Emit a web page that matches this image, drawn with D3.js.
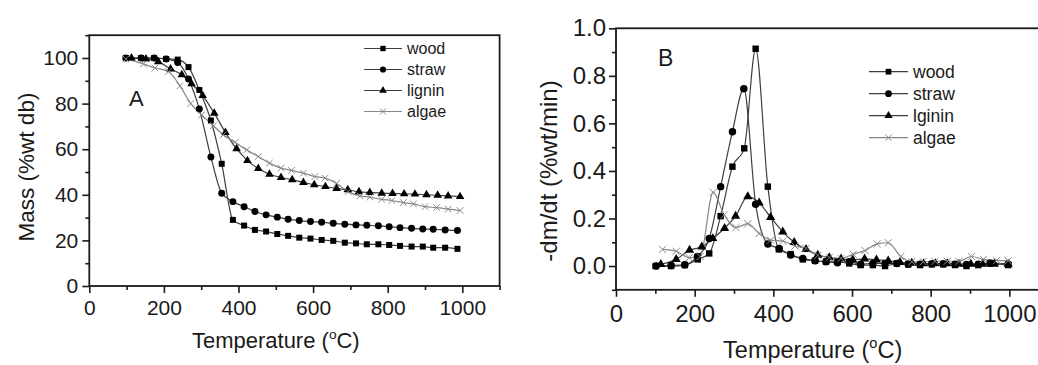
<!DOCTYPE html>
<html>
<head>
<meta charset="utf-8">
<script src="https://cdn.jsdelivr.net/npm/d3@7"></script>
<style>
  html, body { margin: 0; padding: 0; background: #fff; }
  svg { display: block; }
  text { font-family: Arial, "Liberation Sans", Helvetica, sans-serif; fill: #1a1a1a; }
</style>
</head>
<body>
<svg id="chart" width="1038" height="365"></svg>
<script>
// ---- Panel A: thermogravimetric mass loss (% wt, dry basis) ----
const tempsWoodStrawA = [98,139,174,206,237,266,295,326,355,385,415,444,474,504,533,563,593,623,654,685,715,744,775,804,833,864,894,922,954,987];
const massWood  = [100,100,100,99.6,99.3,96,86,72.6,53.6,29,26.5,24.6,23.9,22.8,22,21.2,20.8,20.2,19.8,19,18.7,18.3,18.3,18,17.6,17.3,17.3,16.8,16.8,16.3];
const massStraw = [100,100,100,99.6,98,90.8,77.6,56.6,40.7,37,34.8,32.7,31.2,30.2,29.3,28.7,28.3,28,27.5,27.1,26.8,26.6,26.4,26,25.6,25.3,25,24.9,24.6,24.3];
const tempsLigninA = [113,152,185,218,248,274,304,335,365,395,424,453,483,514,544,574,603,633,663,693,723,752,784,813,844,873,904,934,962,994];
const massLignin = [100,99.6,98.4,95.2,92.7,88.7,83.5,75.8,67.3,60.2,55,51.5,49,47.6,46.6,45.4,44.4,43.6,42.8,42.2,41.3,41,40.7,40.6,40.4,40.3,40,39.8,39.5,39.2];
const tempsAlgaeA = [98,145,176,212,243,272,301,333,359,391,422,453,483,514,542,574,605,632,663,694,726,752,784,811,842,869,900,931,962,994];
const massAlgae = [99.6,97.4,95.6,94.1,87.8,80,75,70.3,66.3,63,59.7,56.8,53.9,51.7,50.7,49.5,48,47.3,45,41.4,39.5,39,38,37.5,36.6,36,34.8,34.4,33.7,33.1];

// ---- Panel B: derivative mass loss rate (-dm/dt, % wt/min) ----
const tempsWoodB = [101,140,175,208,237,266,296,326,355,386,414,444,475,506,534,563,593,622,653,684,714,743,773,803,832,862,891,921,951,997];
const rateWood  = [0,0,0.004,0.028,0.053,0.21,0.418,0.495,0.914,0.334,0.07,0.05,0.028,0.022,0.018,0.018,0.011,0.004,0.004,0,0.011,0.007,0.004,0.007,0.007,0.004,0,0.004,0.011,0.004];
const tempsStrawB = [102,140,175,207,237,266,296,325,355,386,415,444,475,506,534,563,593,622,653,684,714,743,773,803,832,862,891,921,951,997];
const rateStraw = [0,0.002,0.005,0.04,0.116,0.334,0.565,0.746,0.26,0.093,0.074,0.046,0.032,0.022,0.018,0.014,0.018,0.008,0.011,0.011,0.011,0.008,0.008,0.01,0.01,0.008,0.006,0.008,0.012,0.008];
const tempsLigninB = [114,153,187,218,246,276,304,335,364,393,424,453,483,513,542,572,602,632,662,692,722,752,782,812,842,872,902,932,962,997];
const rateLignin = [0.007,0.028,0.067,0.081,0.116,0.159,0.21,0.292,0.266,0.205,0.144,0.1,0.07,0.046,0.036,0.03,0.026,0.03,0.026,0.022,0.016,0.012,0.01,0.01,0.01,0.008,0.008,0.008,0.008,0.008];
const tempsAlgaeB = [118,153,186,214,247,275,305,335,364,393,424,455,483,513,542,572,603,633,664,692,724,752,781,811,842,872,904,934,968,997];
const rateAlgae = [0.07,0.062,0.035,0.04,0.31,0.215,0.162,0.178,0.137,0.109,0.105,0.084,0.074,0.045,0.036,0.032,0.05,0.065,0.093,0.098,0.04,0.018,0.018,0.02,0.02,0.02,0.04,0.028,0.024,0.022];

// ---- Axis ticks ----
const xMajorTicks = [0,200,400,600,800,1000];
const xMinorTicks = [100,300,500,700,900,1100];
const yMajorTicksA = [0,20,40,60,80,100];
const yMinorTicksA = [10,30,50,70,90,110];
const yMajorTicksB = [0.0,0.2,0.4,0.6,0.8,1.0];
const yMinorTicksB = [-0.1,0.1,0.3,0.5,0.7,0.9];

const seriesNames = ["wood","straw","lignin","algae"];
const seriesNamesB = ["wood","straw","lginin","algae"];

const svg = d3.select("#chart");

const symbolX = d3.symbolTimes || d3.symbolX;
const styles = [
  {sym: d3.symbolSquare,   size: 36, line: "#3f3f3f", fill: "#000", stroke: "none"},
  {sym: d3.symbolCircle,   size: 38, line: "#3f3f3f", fill: "#000", stroke: "none"},
  {sym: d3.symbolTriangle, size: 32, line: "#3f3f3f", fill: "#000", stroke: "none"},
  {sym: symbolX,           size: 30, line: "#888", fill: "none", stroke: "#888"}
];

function drawPanel(p) {
  const g = svg.append("g");
  const x = p.x, y = p.y;
  const [x0, x1] = x.range();
  const [y0, y1] = y.range();

  // axes with major (labelled) and minor ticks
  const xAxis = d3.axisBottom(x).tickValues(xMajorTicks).tickSize(7).tickPadding(p.xPad).tickFormat(d3.format("d"));
  const xMinor = d3.axisBottom(x).tickValues(xMinorTicks).tickSize(4).tickFormat("");
  const yAxis = d3.axisLeft(y).tickValues(p.yMajor).tickSize(7).tickPadding(p.yPad).tickFormat(p.yFormat);
  const yMinor = d3.axisLeft(y).tickValues(p.yMinor).tickSize(4).tickFormat("");

  [[xAxis, `translate(0,${y0})`], [xMinor, `translate(0,${y0})`], [yAxis, `translate(${x0},0)`], [yMinor, `translate(${x0},0)`]]
    .forEach(([ax, tr]) => {
      const a = g.append("g").attr("transform", tr).call(ax);
      a.select(".domain").remove();
      a.selectAll("line").attr("stroke", "#1a1a1a").attr("stroke-width", 1.6);
      a.selectAll("text").attr("font-size", p.tickFont).attr("fill", "#1a1a1a")
        .style("font-family", "Arial, 'Liberation Sans', sans-serif");
    });

  // frame
  g.append("rect").attr("x", x0).attr("y", y1).attr("width", x1 - x0).attr("height", y0 - y1)
    .attr("fill", "none").attr("stroke", "#1a1a1a").attr("stroke-width", 1.8);

  // series
  const line = d3.line().x(d => x(d[0])).y(d => y(d[1])).curve(d3.curveMonotoneX);
  p.series.forEach((s, i) => {
    const st = styles[i];
    const pts = s.t.map((t, k) => [t, s.v[k]]);
    g.append("path").datum(pts).attr("d", line).attr("fill", "none")
      .attr("stroke", st.line).attr("stroke-width", 1.2);
  });
  p.series.forEach((s, i) => {
    const st = styles[i];
    const sym = d3.symbol().type(st.sym).size(st.size * p.markScale);
    g.selectAll(null).data(s.t.map((t, k) => [t, s.v[k]])).join("path")
      .attr("d", sym)
      .attr("transform", d => `translate(${x(d[0])},${y(d[1])})`)
      .attr("fill", st.fill).attr("stroke", st.stroke).attr("stroke-width", 1);
  });

  // legend
  p.names.forEach((n, i) => {
    const st = styles[i];
    const ly = p.legY + i * p.legStep;
    g.append("line").attr("x1", p.legX1).attr("x2", p.legX2).attr("y1", ly).attr("y2", ly)
      .attr("stroke", st.line).attr("stroke-width", 1.2);
    g.append("path").attr("d", d3.symbol().type(st.sym).size(st.size * p.markScale * 0.8))
      .attr("transform", `translate(${(p.legX1 + p.legX2) / 2},${ly})`)
      .attr("fill", st.fill).attr("stroke", st.stroke).attr("stroke-width", 1);
    g.append("text").attr("x", p.legX2 + 5).attr("y", ly).attr("dy", "0.35em")
      .attr("font-size", p.legFont).text(n);
  });

  // panel letter
  g.append("text").attr("x", p.letterX).attr("y", p.letterY).attr("font-size", p.letterFont).text(p.letter);

  // x-axis title with superscript degree mark
  const xt = g.append("text").attr("x", (x(0) + x(1000)) / 2).attr("y", p.xTitleY)
    .attr("text-anchor", "middle").attr("font-size", p.titleFont);
  xt.append("tspan").text("Temperature (");
  xt.append("tspan").attr("font-size", p.titleFont * 0.62).attr("dy", -p.titleFont * 0.42).text("o");
  xt.append("tspan").attr("dy", p.titleFont * 0.42).text("C)");

  // y-axis title
  g.append("text").attr("transform", `translate(${p.yTitleX},${p.yTitleY}) rotate(-90)`)
    .attr("text-anchor", "middle").attr("font-size", p.yTitleFont).text(p.yTitle);
}

drawPanel({
  x: d3.scaleLinear().domain([0, 1100]).range([89.3, 499.6]),
  y: d3.scaleLinear().domain([0, 110]).range([286, 35.2]),
  yMajor: yMajorTicksA, yMinor: yMinorTicksA, yFormat: d3.format("d"),
  xPad: 7, yPad: 4, tickFont: 21, markScale: 1,
  series: [
    {t: tempsWoodStrawA, v: massWood},
    {t: tempsWoodStrawA, v: massStraw},
    {t: tempsLigninA, v: massLignin},
    {t: tempsAlgaeA, v: massAlgae}
  ],
  names: seriesNames,
  legX1: 364, legX2: 402, legY: 48.5, legStep: 21, legFont: 16,
  letter: "A", letterX: 129, letterY: 106, letterFont: 22,
  xTitleY: 348, titleFont: 22,
  yTitle: "Mass (%wt db)", yTitleX: 34, yTitleY: 167, yTitleFont: 22.5
});

drawPanel({
  x: d3.scaleLinear().domain([0, 1100]).range([616, 1048.7]),
  y: d3.scaleLinear().domain([-0.1, 1.0]).range([289.8, 28.3]),
  yMajor: yMajorTicksB, yMinor: yMinorTicksB, yFormat: d3.format(".1f"),
  xPad: 8, yPad: 3, tickFont: 24, markScale: 1.15,
  series: [
    {t: tempsWoodB, v: rateWood},
    {t: tempsStrawB, v: rateStraw},
    {t: tempsLigninB, v: rateLignin},
    {t: tempsAlgaeB, v: rateAlgae}
  ],
  names: seriesNamesB,
  legX1: 869, legX2: 908, legY: 71.7, legStep: 22, legFont: 17.5,
  letter: "B", letterX: 658, letterY: 66, letterFont: 23,
  xTitleY: 358, titleFont: 23.5,
  yTitle: "-dm/dt (%wt/min)", yTitleX: 557, yTitleY: 171, yTitleFont: 24
});
</script>
</body>
</html>
